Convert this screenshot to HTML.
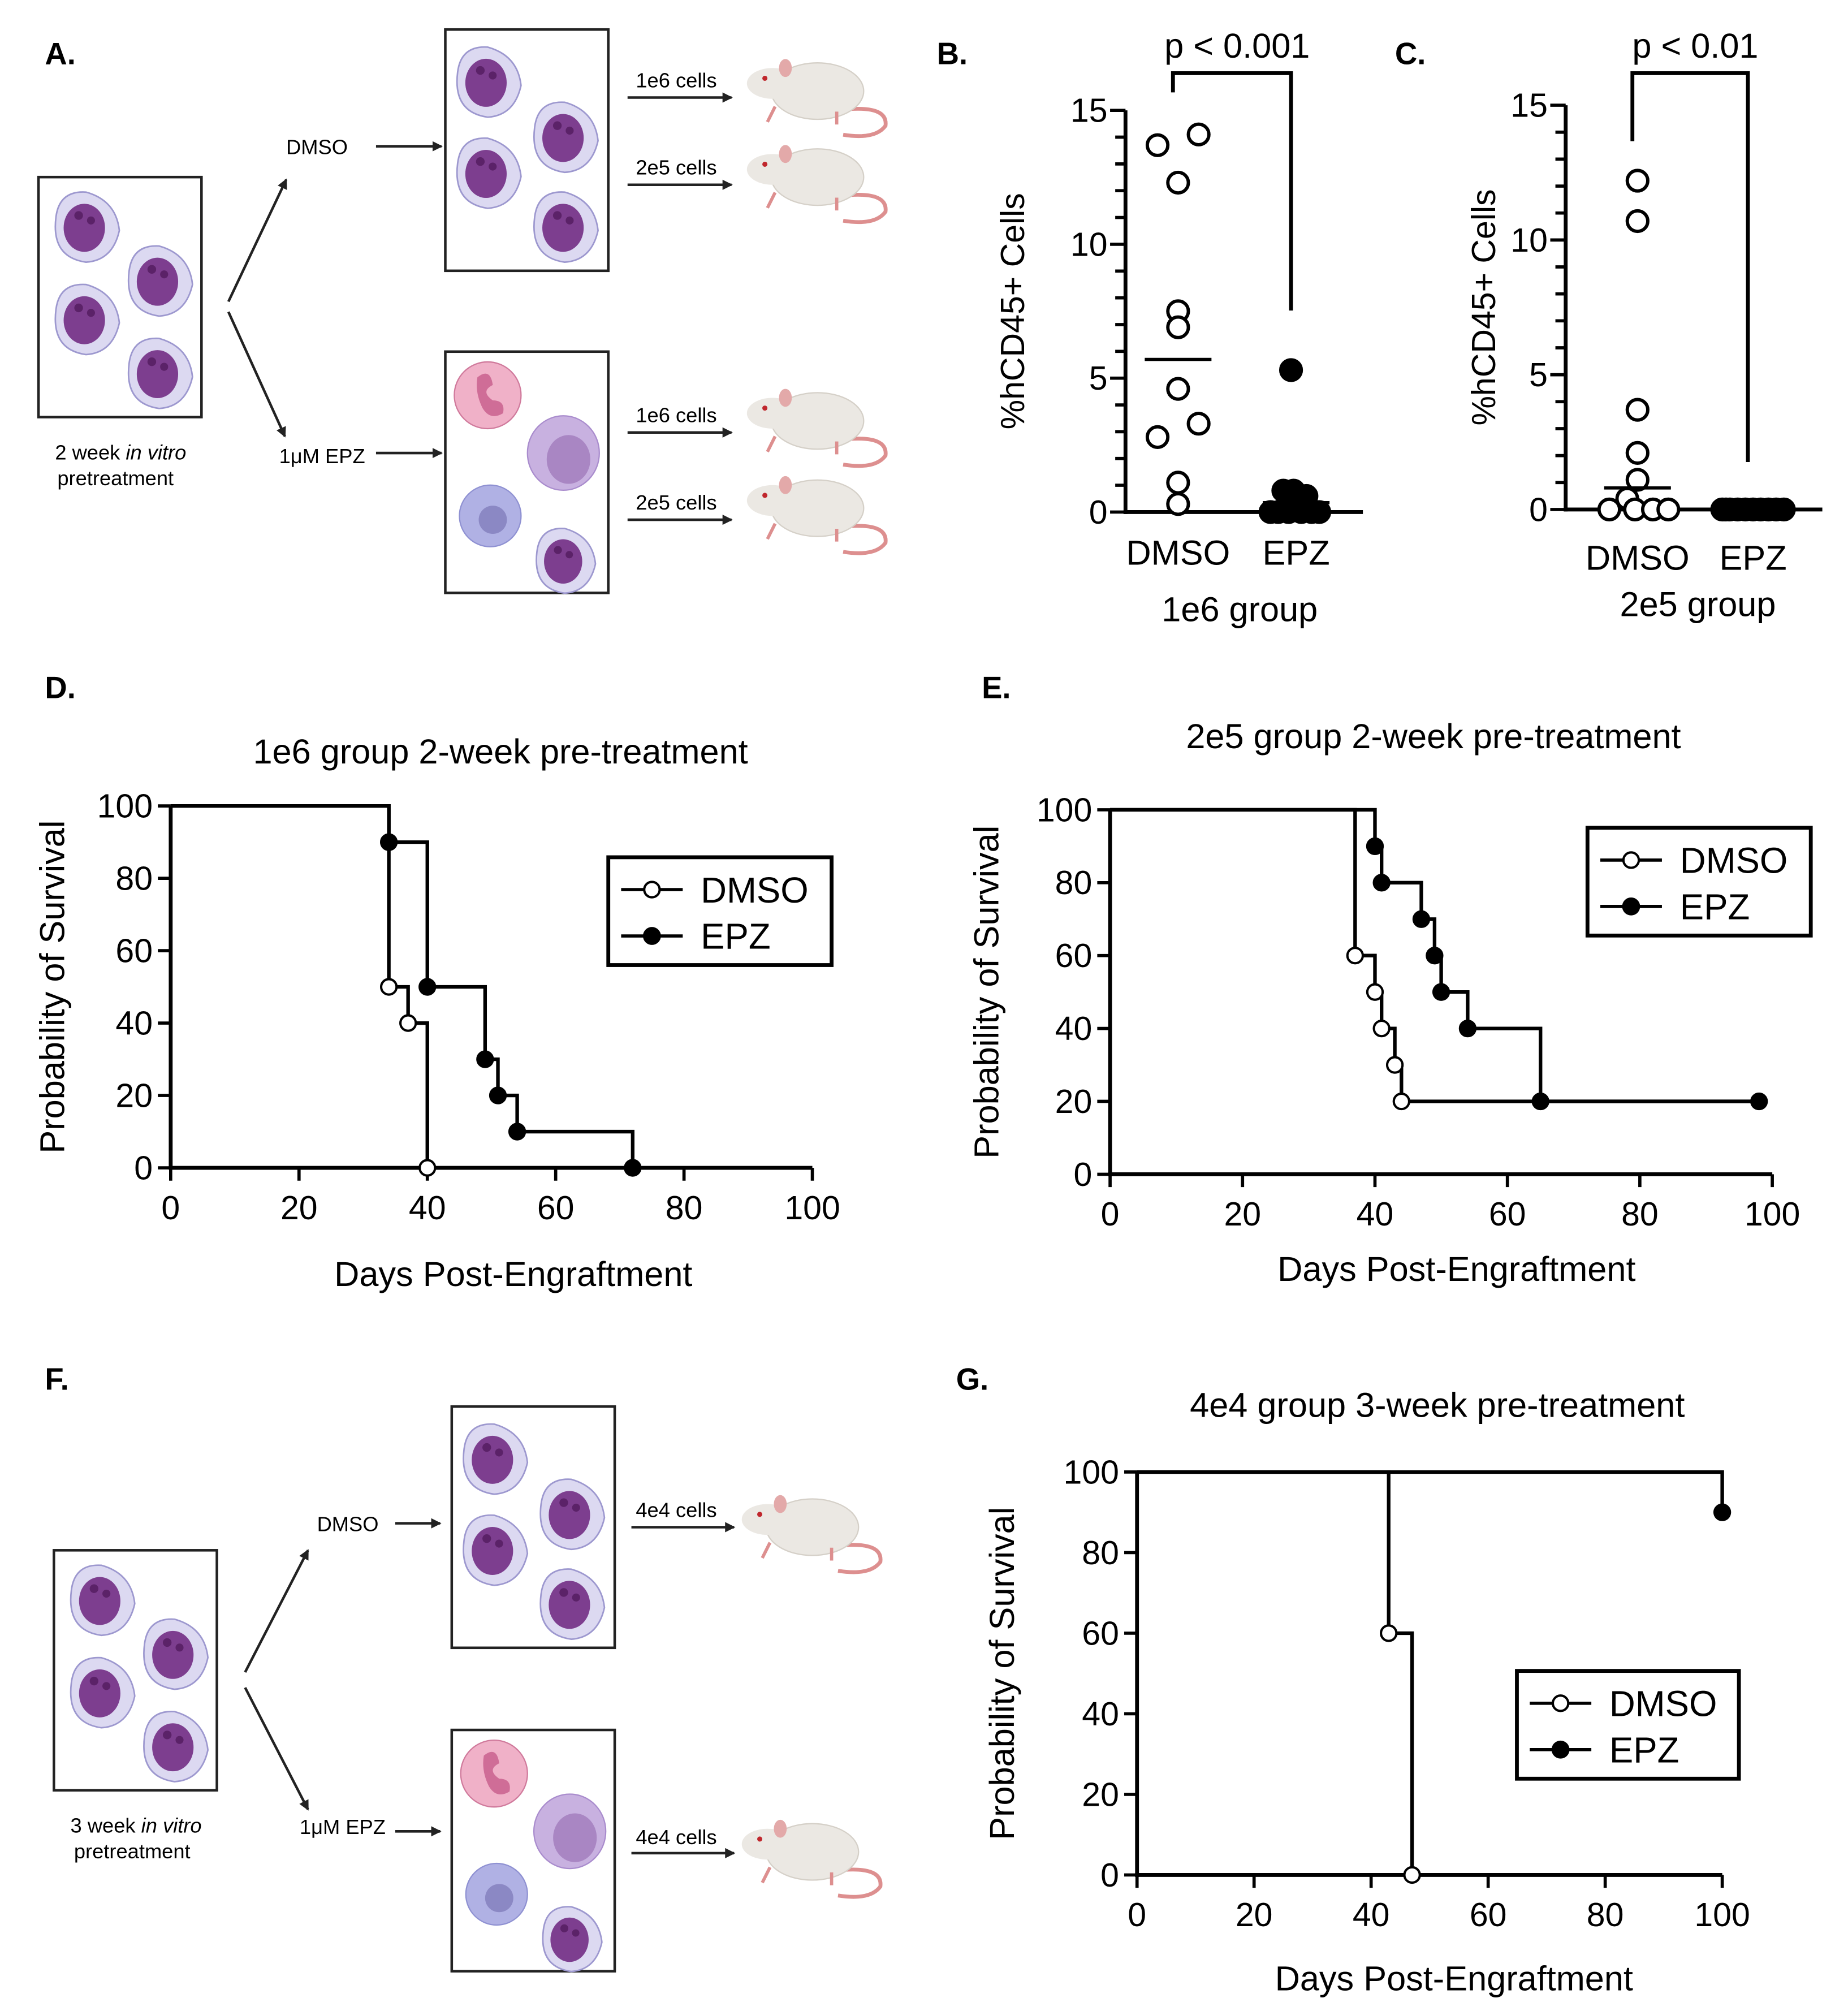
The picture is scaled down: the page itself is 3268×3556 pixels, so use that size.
<!DOCTYPE html>
<html><head><meta charset="utf-8"><style>
html,body{margin:0;padding:0;background:#fff}
svg{display:block}
text{font-family:"Liberation Sans",Arial,sans-serif;fill:#000}
</style></head><body>
<svg id="fig" width="3268" height="3556" viewBox="0 0 1440 1567" preserveAspectRatio="none" xmlns="http://www.w3.org/2000/svg">
<defs>
<marker id="ah" markerWidth="8" markerHeight="8" refX="7" refY="4" orient="auto" markerUnits="userSpaceOnUse"><path d="M0,0 L8,4 L0,8 z" fill="#222"/></marker>
</defs>
<g font-weight="bold" font-size="24">
<text x="35" y="50">A.</text>
<text x="730" y="50">B.</text>
<text x="1087" y="50">C.</text>
<text x="35" y="544">D.</text>
<text x="765" y="544">E.</text>
<text x="35" y="1083">F.</text>
<text x="745" y="1083">G.</text>
</g>
<g id="schem"></g>
<g id="charts"></g>
</svg>
<script>
// ---------- data ----------
const bCategories = ["DMSO","EPZ"];
const bDMSO = [13.7,14.1,12.3,7.5,6.9,4.6,2.8,3.3,1.1,0.3];
const bEPZ = [5.3,0.8,0.8,0.6,0,0,0,0,0,0];
const bMeans = [5.7,0.35];
const cDMSO = [12.2,10.7,3.7,2.1,1.1,0.4,0,0,0,0];
const cEPZ = [0,0,0,0,0,0,0,0,0,0];
const cMeans = [0.8,0];
const yTicksScatter = [0,5,10,15];
const kmTicks = [0,20,40,60,80,100];
// KM step data: [day, survival]
const dDMSOdays = [34,37,40];
const dDMSOsurv = [50,40,0];
const dEPZdays = [34,40,49,51,54,72];
const dEPZsurv = [90,50,30,20,10,0];
const eDMSOdays = [37,40,41,43,44,98];
const eDMSOsurv = [60,50,40,30,20,20];
const eDMSOmarks = [1,1,1,1,1,0];
const eEPZdays = [40,41,47,49,50,54,65,98];
const eEPZsurv = [90,80,70,60,50,40,20,20];
const gDMSOdays = [43,47];
const gDMSOsurv = [60,0];
const gEPZdays = [100];
const gEPZsurv = [90];

const NS="http://www.w3.org/2000/svg";
function el(parent,tag,attrs,name){const e=document.createElementNS(NS,tag);for(const k in attrs)e.setAttribute(k,attrs[k]);


parent.appendChild(e);return e;}
function txt(parent,x,y,s,size,anchor,name,extra){const t=el(parent,'text',Object.assign({x:x,y:y,'font-size':size,'text-anchor':anchor||'middle'},extra||{}),name);t.textContent=s;return t;}

// ---------- schematics ----------
const S=document.getElementById('schem');
function blast(g,cx,cy,r){
  el(g,'path',{d:`M${cx-r*0.9},${cy-r*0.3} Q${cx-r*0.8},${cy-r*1.1} ${cx},${cy-r*1.05} Q${cx+r*0.9},${cy-r*0.8} ${cx+r},${cy+r*0.1} Q${cx+r*0.8},${cy+r*1.0} ${cx},${cy+r*1.05} Q${cx-r*1.05},${cy+r*0.9} ${cx-r*0.9},${cy-r*0.3}z`,fill:'#dcd9f1',stroke:'#9d98cf','stroke-width':1.2},'blast-cell-cytoplasm');
  el(g,'ellipse',{cx:cx-r*0.05,cy:cy+r*0.02,rx:r*0.62,ry:r*0.72,fill:'#7d3e8f'},'blast-cell-nucleus');
  el(g,'circle',{cx:cx-r*0.22,cy:cy-r*0.35,r:r*0.13,fill:'#5b2268'},'nucleolus');
  el(g,'circle',{cx:cx+r*0.15,cy:cy-r*0.2,r:r*0.12,fill:'#5b2268'},'nucleolus');
}
function mouse(g,x,y){
  el(g,'path',{d:`M${x+80},${y+42} Q${x+110},${y+40} ${x+108},${y+55} Q${x+100},${y+66} ${x+75},${y+62}`,fill:'none',stroke:'#dd8f8f','stroke-width':3},'mouse-tail');
  el(g,'ellipse',{cx:x+55,cy:y+28,rx:36,ry:22,fill:'#ebe8e3',stroke:'#d5d0c8','stroke-width':1},'mouse-body');
  el(g,'ellipse',{cx:x+20,cy:y+22,rx:20,ry:12,fill:'#ebe8e3'},'mouse-head');
  el(g,'ellipse',{cx:x+30,cy:y+10,rx:5,ry:7,fill:'#e3a9a9'},'mouse-ear');
  el(g,'circle',{cx:x+14,cy:y+18,r:2,fill:'#c0272d'},'mouse-eye');
  el(g,'path',{d:`M${x+22},${y+40} l-6,12 M${x+70},${y+44} l0,10`,stroke:'#dd8f8f','stroke-width':2.5},'mouse-legs');
}
function arrow(g,x1,y1,x2,y2,name){el(g,'line',{x1:x1,y1:y1,x2:x2,y2:y2,stroke:'#222','stroke-width':2,'marker-end':'url(#ah)'},name);}
function box(g,x,y,w,h,name){el(g,'rect',{x:x,y:y,width:w,height:h,fill:'#fff',stroke:'#222','stroke-width':2},name);}
function epzBox(g,x,y){
  box(g,x,y,127,188,'epz-cell-box');
  el(g,'circle',{cx:x+33,cy:y+34,r:26,fill:'#f0b1c8',stroke:'#d07a9c','stroke-width':1},'neutrophil-cell');
  el(g,'path',{d:`M${x+25},${y+20} q10,-8 12,6 q-10,5 0,12 q10,0 8,10 q-10,6 -16,-4 q-6,-12 -4,-24z`,fill:'#cf6d97'},'neutrophil-nucleus');
  el(g,'ellipse',{cx:x+92,cy:y+79,rx:28,ry:29,fill:'#c8b1e0',stroke:'#a98ccd','stroke-width':1},'monocyte-cell');
  el(g,'ellipse',{cx:x+96,cy:y+84,rx:17,ry:19,fill:'#a986c3'},'monocyte-nucleus');
  el(g,'circle',{cx:x+35,cy:y+128,r:24,fill:'#b0b1e4',stroke:'#8f91d2','stroke-width':1},'basophil-cell');
  el(g,'circle',{cx:x+37,cy:y+131,r:11,fill:'#8b88c4'},'basophil-nucleus');
  blast(g,x+93,y+163,24);
}
function dmsoBox(g,x,y){
  box(g,x,y,127,188,'dmso-cell-box');
  blast(g,x+33,y+41,26);blast(g,x+93,y+84,26);blast(g,x+33,y+112,26);blast(g,x+93,y+154,26);
}
function leftBox(g,x,y){
  box(g,x,y,127,187,'starting-cell-box');
  blast(g,x+37,y+39,26);blast(g,x+94,y+81,26);blast(g,x+37,y+111,26);blast(g,x+94,y+153,26);
}
// Panel A
leftBox(S,30,138);
txt(S,94,358,'',16,'middle','caption-a').innerHTML='2 week <tspan font-style="italic">in vitro</tspan>';
txt(S,90,378,'pretreatment',16,'middle','caption-a-2');
arrow(S,178,235,223,140,'arrow-to-dmso');arrow(S,178,243,222,340,'arrow-to-epz');
txt(S,247,120,'DMSO',16,'middle','label-dmso');arrow(S,293,114,344,114,'arrow-dmso-box');
txt(S,251,361,'1μM EPZ',16,'middle','label-epz');arrow(S,293,353,344,353,'arrow-epz-box');
dmsoBox(S,347,23);epzBox(S,347,274);
[[63,76,'1e6 cells',43],[131,144,'2e5 cells',110],[324,337,'1e6 cells',300],[392,405,'2e5 cells',368]].forEach(a=>{
 txt(S,527,a[0]+5,a[2],16,'middle','cell-dose-label');arrow(S,489,a[1],570,a[1],'arrow-to-mouse');mouse(S,582,a[3]);});
// Panel F
leftBox(S,42,1208);
txt(S,106,1428,'',16,'middle','caption-f').innerHTML='3 week <tspan font-style="italic">in vitro</tspan>';
txt(S,103,1448,'pretreatment',16,'middle','caption-f-2');
arrow(S,191,1303,240,1208,'arrow-to-dmso');arrow(S,191,1315,240,1410,'arrow-to-epz');
txt(S,271,1193,'DMSO',16,'middle','label-dmso');arrow(S,308,1187,343,1187,'arrow-dmso-box');
txt(S,267,1429,'1μM EPZ',16,'middle','label-epz');arrow(S,308,1427,343,1427,'arrow-epz-box');
dmsoBox(S,352,1096);epzBox(S,352,1348);
[[1177,1190,1162],[1432,1444,1415]].forEach(a=>{txt(S,527,a[0]+5,'4e4 cells',16,'middle','cell-dose-label');arrow(S,492,a[1],572,a[1],'arrow-to-mouse');mouse(S,578,a[2]);});

// ---------- charts ----------
const C=document.getElementById('charts');
function lin(d0,d1,r0,r1){return v=>r0+(v-d0)*(r1-r0)/(d1-d0);}

function scatter(o){
  const g=el(C,'g',{},o.name);
  const y=lin(0,15,o.y0,o.y15);
  el(g,'line',{x1:o.ax,y1:o.y15,x2:o.ax,y2:o.y0+1.5,stroke:'#000','stroke-width':3},'y-axis');
  el(g,'line',{x1:o.ax-1.5,y1:o.y0,x2:o.xend,y2:o.y0,stroke:'#000','stroke-width':3},'x-axis');
  for(let v=0;v<=15;v++){const L=v%5===0?12:8;el(g,'line',{x1:o.ax-L,y1:y(v),x2:o.ax,y2:y(v),stroke:'#000','stroke-width':2.5},'y-tick');}
  yTicksScatter.forEach(v=>txt(g,o.ax-14,y(v)+9,String(v),26,'end','y-tick-label'));
  const t=txt(g,0,0,'%hCD45+ Cells',26,'middle','y-axis-title',{transform:`translate(${o.ytx},${(o.y0+o.y15)/2}) rotate(-90)`});
  bCategories.forEach((c,i)=>txt(g,o.cx[i],o.labY,c,27,'middle','x-category-label'));
  txt(g,(o.cx[0]+o.cx[1])/2+2,o.grpY,o.group,27,'middle','x-group-label');
  // bracket
  el(g,'path',{d:`M${o.cx[0]-4},${o.br0} V57 H${o.cx[1]-4} V${o.br1}`,fill:'none',stroke:'#000','stroke-width':3},'significance-bracket');
  txt(g,(o.cx[0]+o.cx[1])/2,45,o.p,27,'middle','p-value-label');
  // points
  const jit=[-18,18,0,0,0,0,-18,18,0,0];
  o.d.forEach((v,i)=>el(g,'circle',{cx:o.cx[0]+o.jd[i],cy:y(v),r:8,fill:'#fff',stroke:'#000','stroke-width':2.6},'point-dmso'));
  o.e.forEach((v,i)=>el(g,'circle',{cx:o.cx[1]+o.je[i],cy:y(v),r:8,fill:'#000',stroke:'#000','stroke-width':2.6},'point-epz'));
  o.m.forEach((v,i)=>{ if(i===0||v>0.01) el(g,'line',{x1:o.cx[i]-26,y1:y(v),x2:o.cx[i]+26,y2:y(v),stroke:'#000','stroke-width':2.5},'mean-line');});
}
scatter({name:'panel-b-scatter',ax:877,y0:399,y15:86,xend:1062,cx:[918,1010],labY:440,grpY:484,group:'1e6 group',p:'p < 0.001',br0:72,br1:242,ytx:798,
 d:bDMSO,e:bEPZ,m:bMeans,jd:[-16,16,0,0,0,0,-16,16,0,0],je:[-4,-2,-10,8,-14,-6,4,12,18,-20]});
scatter({name:'panel-c-scatter',ax:1220,y0:397,y15:82,xend:1420,cx:[1276,1366],labY:444,grpY:480,group:'2e5 group',p:'p < 0.01',br0:110,br1:360,ytx:1165,
 d:cDMSO,e:cEPZ,m:cMeans,jd:[0,0,0,0,0,-8,-22,-2,12,24],je:[-24,-18,-12,-6,0,6,12,18,24,-21]});

function km(o){
  const g=el(C,'g',{},o.name);
  const x=lin(0,100,o.x0,o.x100), y=lin(0,100,o.y0,o.y100);
  el(g,'line',{x1:o.x0,y1:o.y100,x2:o.x0,y2:o.y0+1.5,stroke:'#000','stroke-width':3},'y-axis');
  el(g,'line',{x1:o.x0-1.5,y1:o.y0,x2:o.x100,y2:o.y0,stroke:'#000','stroke-width':3},'x-axis');
  kmTicks.forEach(v=>{
    el(g,'line',{x1:o.x0-10,y1:y(v),x2:o.x0,y2:y(v),stroke:'#000','stroke-width':2.5},'y-tick');
    txt(g,o.x0-14,y(v)+9,String(v),26,'end','y-tick-label');
    el(g,'line',{x1:x(v),y1:o.y0,x2:x(v),y2:o.y0+10,stroke:'#000','stroke-width':2.5},'x-tick');
    txt(g,x(v),o.y0+40,String(v),26,'middle','x-tick-label');
  });
  txt(g,o.tx,o.ty,o.title,27,'middle','chart-title');
  txt(g,o.xtx,o.xty,'Days Post-Engraftment',27,'middle','x-axis-title');
  txt(g,0,0,'Probability of Survival',27,'middle','y-axis-title',{transform:`translate(${o.ytx},${(o.y0+o.y100)/2}) rotate(-90)`});
  function series(days,surv,fill,marks,name){
    let d=`M${x(0)},${y(100)}`, prev=100;
    days.forEach((t,i)=>{d+=` H${x(t)} V${y(surv[i])}`;prev=surv[i];});
    el(g,'path',{d:d,fill:'none',stroke:'#000','stroke-width':2.8},name+'-curve');
    days.forEach((t,i)=>{ if(!marks||marks[i]) el(g,'circle',{cx:x(t),cy:y(surv[i]),r:6,fill:fill,stroke:'#000','stroke-width':1.8},name+'-point');});
  }
  series(o.dd,o.ds,'#fff',o.dm,'dmso');
  series(o.ed,o.es,'#000',null,'epz');
  // legend
  const L=o.leg;
  el(g,'rect',{x:L[0],y:L[1],width:L[2],height:L[3],fill:'#fff',stroke:'#000','stroke-width':3},'legend-box');
  const r1=L[1]+L[3]*0.3, r2=L[1]+L[3]*0.73;
  el(g,'line',{x1:L[0]+10,y1:r1,x2:L[0]+58,y2:r1,stroke:'#000','stroke-width':2.5},'legend-line-dmso');
  el(g,'circle',{cx:L[0]+34,cy:r1,r:6,fill:'#fff',stroke:'#000','stroke-width':1.8},'legend-marker-dmso');
  txt(g,L[0]+72,r1+10,'DMSO',28,'start','legend-label-dmso');
  el(g,'line',{x1:L[0]+10,y1:r2,x2:L[0]+58,y2:r2,stroke:'#000','stroke-width':2.5},'legend-line-epz');
  el(g,'circle',{cx:L[0]+34,cy:r2,r:7,fill:'#000'},'legend-marker-epz');
  txt(g,L[0]+72,r2+10,'EPZ',28,'start','legend-label-epz');
}
km({name:'panel-d-km',x0:133,x100:633,y0:910,y100:628,title:'1e6 group 2-week pre-treatment',tx:390,ty:595,xtx:400,xty:1002,ytx:50,
 dd:dDMSOdays,ds:dDMSOsurv,ed:dEPZdays,es:dEPZsurv,leg:[474,668,174,84]});
km({name:'panel-e-km',x0:865,x100:1381,y0:915,y100:631,title:'2e5 group 2-week pre-treatment',tx:1117,ty:583,xtx:1135,xty:998,ytx:778,
 dd:eDMSOdays,ds:eDMSOsurv,dm:eDMSOmarks,ed:eEPZdays,es:eEPZsurv,leg:[1237,645,174,84]});
km({name:'panel-g-km',x0:886,x100:1342,y0:1461,y100:1147,title:'4e4 group 3-week pre-treatment',tx:1120,ty:1104,xtx:1133,xty:1551,ytx:790,
 dd:gDMSOdays,ds:gDMSOsurv,ed:gEPZdays,es:gEPZsurv,leg:[1182,1302,173,84]});
</script>
</body></html>
